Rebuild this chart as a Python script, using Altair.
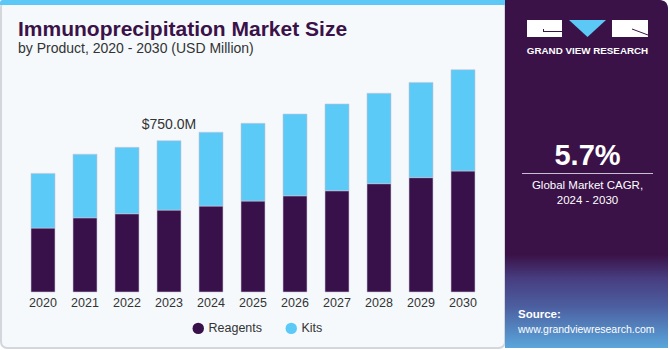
import altair as alt
import pandas as pd

years = ["2020", "2021", "2022", "2023", "2024", "2025", "2026", "2027", "2028", "2029", "2030"]
reagents = [317, 368, 388, 406, 426, 451, 477, 502, 537, 567, 600]
kits = [271, 315, 329, 344, 366, 385, 405, 430, 448, 472, 502]
segments = ["Reagents", "Kits"]
seg_colors = ["#38104a", "#5ccaf7"]
annot_year = "2023"
annot_text = "$750.0M"

rows = []
for y, r, k in zip(years, reagents, kits):
    rows.append({"year": y, "segment": "Reagents", "value": r, "order": 0})
    rows.append({"year": y, "segment": "Kits", "value": k, "order": 1})
df = pd.DataFrame(rows)
ann = pd.DataFrame({"year": [annot_year],
                    "total": [reagents[years.index(annot_year)] + kits[years.index(annot_year)]],
                    "label": [annot_text]})

OX, OY = 22, 60
W, H = 462, 232
YMAX = 1150

base = alt.Chart(df)
bars = base.mark_bar(size=24, stroke="#c9c3d6", strokeWidth=0.6).encode(
    x=alt.X("year:N", sort=years, title=None,
            scale=alt.Scale(paddingInner=0.42, paddingOuter=0.21),
            axis=alt.Axis(labelAngle=0, ticks=False, domain=False, labelPadding=4, zindex=1,
                          labelFont="Liberation Sans", labelFontSize=12.5, labelColor="#333333")),
    y=alt.Y("value:Q", stack="zero", title=None,
            scale=alt.Scale(domain=[0, YMAX], nice=False),
            axis=None),
    color=alt.Color("segment:N", sort=segments,
                    scale=alt.Scale(domain=segments, range=seg_colors),
                    legend=alt.Legend(title=None, orient="none", direction="horizontal",
                                      legendX=170, legendY=262, symbolType="circle",
                                      symbolSize=130, symbolStrokeWidth=0,
                                      labelFont="Liberation Sans", labelFontSize=12.5,
                                      labelColor="#333333", columnPadding=22)),
    order=alt.Order("order:Q"),
)

annot = alt.Chart(ann).mark_text(font="Liberation Sans", fontSize=14, color="#333333",
                                  baseline="bottom", dy=-9).encode(
    x=alt.X("year:N", sort=years), y="total:Q", text="label:N")

one = pd.DataFrame({"a": [0]})

# background panel border and stripe
panel_border = alt.Chart(one).mark_rect(fill="#f5f9fc", stroke="#d3d7db", strokeWidth=2,
                                        cornerRadius=6).encode(
    x=alt.value(1 - OX), x2=alt.value(505 - OX), y=alt.value(1 - OY), y2=alt.value(348 - OY))
stripe = alt.Chart(one).mark_rect(fill="#5bc8f5", cornerRadiusTopLeft=4).encode(
    x=alt.value(0 - OX), x2=alt.value(505 - OX), y=alt.value(0 - OY), y2=alt.value(5 - OY))
right_panel = alt.Chart(one).mark_rect(fill="#3a1248", cornerRadiusTopRight=8).encode(
    x=alt.value(505 - OX), x2=alt.value(668 - OX), y=alt.value(0 - OY), y2=alt.value(348 - OY))
grad = alt.Chart(one).mark_rect(
    color=alt.Gradient(gradient="linear", x1=0, y1=0, x2=0, y2=1,
                       stops=[alt.GradientStop(color="#3a1248", offset=0),
                              alt.GradientStop(color="#473d80", offset=0.25),
                              alt.GradientStop(color="#4c5e9f", offset=0.55),
                              alt.GradientStop(color="#5aa6dc", offset=1)])).encode(
    x=alt.value(505 - OX), x2=alt.value(668 - OX), y=alt.value(255 - OY), y2=alt.value(348 - OY))

# logo
logo_left = alt.Chart(one).mark_rect(fill="white").encode(
    x=alt.value(527 - OX), x2=alt.value(562 - OX), y=alt.value(20 - OY), y2=alt.value(37 - OY))
logo_notch = alt.Chart(one).mark_rect(fill="#3a1248").encode(
    x=alt.value(543 - OX), x2=alt.value(562 - OX), y=alt.value(31 - OY), y2=alt.value(32 - OY))
logo_notch2 = alt.Chart(one).mark_rect(fill="#3a1248").encode(
    x=alt.value(543 - OX), x2=alt.value(544 - OX), y=alt.value(29 - OY), y2=alt.value(32 - OY))
logo_right = alt.Chart(one).mark_rect(fill="white").encode(
    x=alt.value(612 - OX), x2=alt.value(648 - OX), y=alt.value(20 - OY), y2=alt.value(37 - OY))
logo_diag = alt.Chart(one).mark_rule(color="#3a1248", strokeWidth=1).encode(
    x=alt.value(632 - OX), x2=alt.value(648 - OX), y=alt.value(29 - OY), y2=alt.value(35 - OY))
logo_tri = alt.Chart(one).mark_point(
    shape="M-1,-0.46L1,-0.46L0,0.46Z", size=1369, filled=True, fill="#5bc8f5",
    opacity=1, strokeWidth=0).encode(
    x=alt.value(587.5 - OX), y=alt.value(28.5 - OY))
logo_text = alt.Chart(one).mark_text(text="GRAND VIEW RESEARCH", font="Liberation Sans",
                                     fontWeight="bold", fontSize=9.8, color="white",
                                     align="center", baseline="middle").encode(
    x=alt.value(587.5 - OX), y=alt.value(51 - OY))

cagr = alt.Chart(one).mark_text(text="5.7%", font="Liberation Sans", fontWeight="bold",
                                fontSize=29, color="white", align="center",
                                baseline="middle").encode(
    x=alt.value(587.5 - OX), y=alt.value(156 - OY))
cagr_rule = alt.Chart(one).mark_rule(color="#c8c0d0", strokeWidth=1).encode(
    x=alt.value(522 - OX), x2=alt.value(653 - OX), y=alt.value(173.5 - OY))
cagr_t1 = alt.Chart(one).mark_text(text="Global Market CAGR,", font="Liberation Sans",
                                   fontSize=11.5, color="white", align="center",
                                   baseline="middle").encode(
    x=alt.value(587.5 - OX), y=alt.value(186 - OY))
cagr_t2 = alt.Chart(one).mark_text(text="2024 - 2030", font="Liberation Sans",
                                   fontSize=11.5, color="white", align="center",
                                   baseline="middle").encode(
    x=alt.value(587.5 - OX), y=alt.value(201 - OY))
src1 = alt.Chart(one).mark_text(text="Source:", font="Liberation Sans", fontWeight="bold",
                                fontSize=11.5, color="white", align="left",
                                baseline="middle").encode(
    x=alt.value(518 - OX), y=alt.value(315 - OY))
src2 = alt.Chart(one).mark_text(text="www.grandviewresearch.com", font="Liberation Sans",
                                fontSize=10.5, color="white", align="left",
                                baseline="middle").encode(
    x=alt.value(518 - OX), y=alt.value(330 - OY))

title = alt.Chart(one).mark_text(text="Immunoprecipitation Market Size", font="Liberation Sans",
                                 fontWeight=900, fontSize=21, color="#3a1248", align="left",
                                 baseline="alphabetic").encode(
    x=alt.value(18 - OX), y=alt.value(36 - OY))
subtitle = alt.Chart(one).mark_text(text="by Product, 2020 - 2030 (USD Million)",
                                    font="Liberation Sans", fontSize=14, color="#333333",
                                    align="left", baseline="alphabetic").encode(
    x=alt.value(18 - OX), y=alt.value(53 - OY))

chart = alt.layer(
    panel_border, stripe, right_panel, grad,
    logo_left, logo_notch, logo_notch2, logo_right, logo_diag, logo_tri, logo_text,
    cagr, cagr_rule, cagr_t1, cagr_t2, src1, src2, title, subtitle,
    bars, annot,
).properties(
    width=W, height=H,
    padding={"left": OX, "top": OY, "right": 670 - OX - W, "bottom": 350 - OY - H},
    autosize=alt.AutoSizeParams(type="none"),
    background="#ffffff",
).configure_view(stroke=None)

chart.save("out.html", embed_options={"renderer": "svg", "actions": False})
